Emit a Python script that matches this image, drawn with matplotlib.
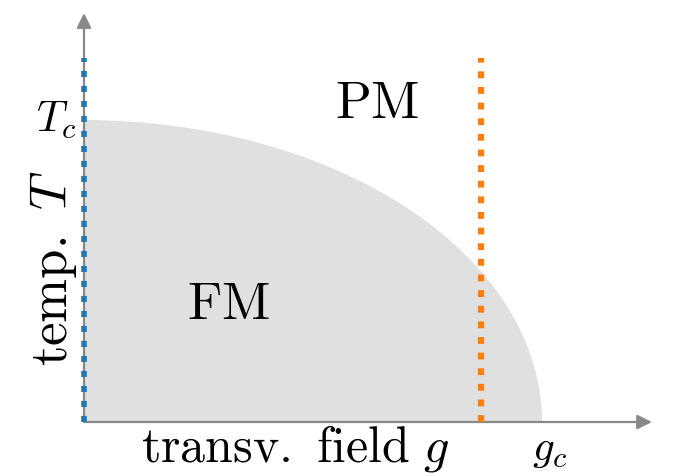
import matplotlib
matplotlib.use("Agg")
import matplotlib.pyplot as plt
from matplotlib.patches import Ellipse, Rectangle

plt.rcParams['mathtext.fontset'] = 'cm'

# phase diagram values (units of g_c and T_c)
g_c = 1.0
T_c = 1.0
g_cut = 0.867          # orange cut at fixed g
line_top = 1.205       # top of the two dotted cuts
x_arrow_end = 1.24
y_arrow_end = 1.354

fig = plt.figure(figsize=(6.75, 4.76), dpi=100)
ax = fig.add_axes([0, 0, 1, 1])
ax.set_xlim(-0.1834, 1.2904)
ax.set_ylim(-0.1788, 1.3974)
ax.axis('off')

# ferromagnetic region
fm = Ellipse((0, 0), 2 * g_c, 2 * T_c, facecolor='#e0e0e0', edgecolor='none', zorder=1)
ax.add_patch(fm)
clip = Rectangle((0, 0), g_c, T_c, transform=ax.transData)
fm.set_clip_path(clip)

# axes with arrows
axis_gray = '#888888'
ax.annotate('', xy=(x_arrow_end, 0), xytext=(0, 0),
            arrowprops=dict(arrowstyle='-|>', color=axis_gray, lw=1.6,
                            mutation_scale=22, shrinkA=0, shrinkB=0), zorder=2)
ax.annotate('', xy=(0, y_arrow_end), xytext=(0, 0),
            arrowprops=dict(arrowstyle='-|>', color=axis_gray, lw=1.6,
                            mutation_scale=22, shrinkA=0, shrinkB=0), zorder=2)

# dotted cuts
ax.plot([0, 0], [0, line_top], color='#1f77b4', lw=4.0, dashes=(1.1, 1.6), zorder=3,
        dash_capstyle='butt')
ax.plot([g_cut, g_cut], [0, line_top], color='#ff7f0e', lw=4.5, dashes=(1.1, 1.4), zorder=3,
        dash_capstyle='butt')

# labels
fs = 38
ax.text(0.640, 1.055, r'$\mathrm{PM}$', fontsize=fs, ha='center', va='center')
ax.text(0.3155, 0.392, r'$\mathrm{FM}$', fontsize=fs, ha='center', va='center')
ax.text(-0.017, 1.0, r'$T_c$', fontsize=31, ha='right', va='center')
ax.text(1.017, -0.02, r'$g_c$', fontsize=31, ha='center', va='top')
ax.text(0.4607, -0.173, r'$\mathrm{transv.\ field}\ g$', fontsize=36, ha='center', va='bottom')
ax.text(-0.068, 0.51, r'$\mathrm{temp.}\ T$', fontsize=fs, ha='center', va='center', rotation=90)

fig.savefig('out.png', dpi=100)
